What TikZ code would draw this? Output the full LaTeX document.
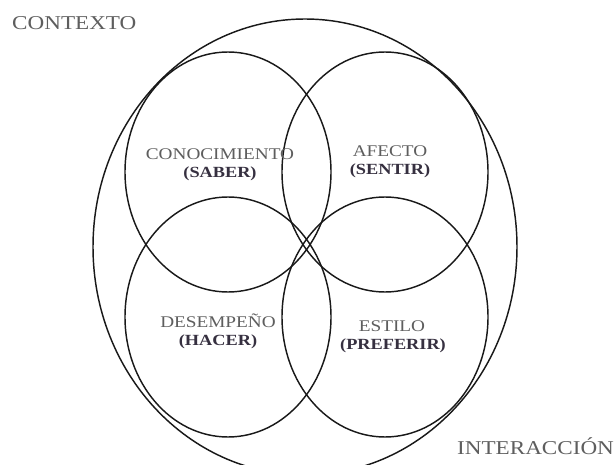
\documentclass[tikz,border=0pt]{standalone}
\usepackage{fontspec}
\setmainfont[FakeStretch=1.18]{Liberation Serif}
\definecolor{labgray}{HTML}{5E5E5E}
\definecolor{labdark}{HTML}{363040}
\begin{document}
\begin{tikzpicture}[x=1pt,y=-1pt,
  ring/.style={draw=black!90,line width=1.45pt},
  lab/.style={text=labgray,font=\fontsize{16.3}{18}\selectfont,inner sep=0pt,anchor=base},
  blab/.style={text=labdark,font=\fontsize{15.5}{18}\selectfont\bfseries,inner sep=0pt,anchor=base},
  big/.style={text=labgray,font=\fontsize{19.6}{21}\selectfont,inner sep=0pt,anchor=base west}]
\useasboundingbox (0,0) rectangle (614,465);
\fill[white] (0,0) rectangle (614,465);
% outer ellipse and four inner ellipses
\draw[ring] (305,247) ellipse [x radius=212, y radius=228];
\draw[ring] (228,172) ellipse [x radius=103, y radius=120];
\draw[ring] (385,172) ellipse [x radius=103, y radius=120];
\draw[ring] (228,317) ellipse [x radius=103, y radius=120];
\draw[ring] (385,317) ellipse [x radius=103, y radius=120];
% labels
\node[big] (ctx) at (12,30) {CONTEXTO};
\node[big] (int) at (457,455) {INTERACCIÓN};
\node[lab] (con) at (220,160) {CONOCIMIENTO};
\node[blab] (sab) at (220,178) {(SABER)};
\node[lab] (afe) at (390,157) {AFECTO};
\node[blab] (sen) at (390,175) {(SENTIR)};
\node[lab] (des) at (218,328) {DESEMPEÑO};
\node[blab] (hac) at (218,346) {(HACER)};
\node[lab] (est) at (392,332) {ESTILO};
\node[blab] (pre) at (393,350) {(PREFERIR)};
\end{tikzpicture}
\end{document}
